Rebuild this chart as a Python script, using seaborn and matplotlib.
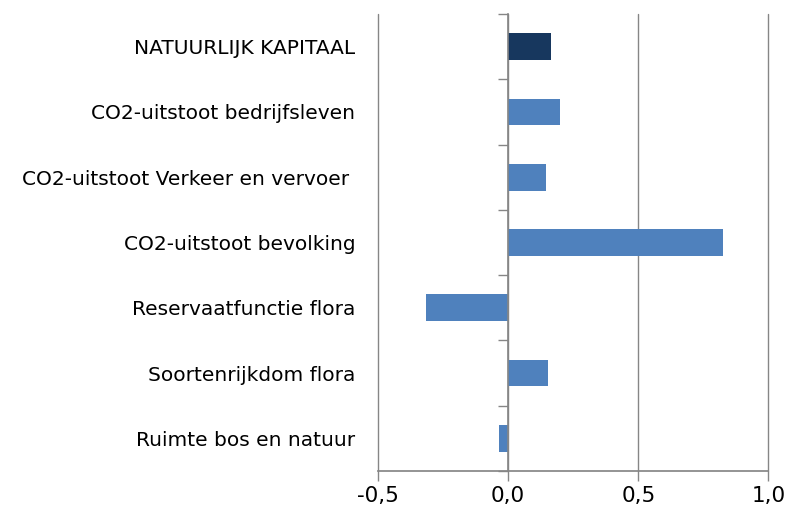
import matplotlib
matplotlib.use("Agg")
import matplotlib.pyplot as plt
import seaborn as sns
import pandas as pd
from matplotlib.ticker import FuncFormatter, FixedLocator

categories = [
    "NATUURLIJK KAPITAAL",
    "CO2-uitstoot bedrijfsleven",
    "CO2-uitstoot Verkeer en vervoer ",
    "CO2-uitstoot bevolking",
    "Reservaatfunctie flora",
    "Soortenrijkdom flora",
    "Ruimte bos en natuur",
]
values = [0.166, 0.20, 0.146, 0.827, -0.315, 0.152, -0.036]
colors = ["#17375E"] + ["#4F81BD"] * 6
xticks = [-0.5, 0.0, 0.5, 1.0]

df = pd.DataFrame({"cat": categories, "val": values})

sns.set_theme(style="white")
plt.rcParams["font.family"] = ["DejaVu Sans"]

fig = plt.figure(figsize=(7.89, 5.17), dpi=100)
ax = fig.add_axes([0.479, 0.089, 0.495, 0.884])

sns.barplot(data=df, x="val", y="cat", hue="cat", palette=colors, legend=False,
            width=0.41, orient="h", ax=ax, edgecolor="none", saturation=1)

ax.set_xlim(-0.5, 1.0)
ax.set_ylim(len(categories) - 0.5, -0.5)
ax.set_xticks(xticks)
ax.xaxis.set_major_formatter(FuncFormatter(lambda v, p: f"{v:.1f}".replace(".", ",")))
ax.grid(axis="x", color="#868686", linewidth=1)
for gl in ax.get_xgridlines():
    gl.set_clip_on(False)
ax.set_axisbelow(True)
ax.set_xlabel("")
ax.set_ylabel("")

for s in ["top", "right"]:
    ax.spines[s].set_visible(False)
ax.spines["bottom"].set_color("#868686")
ax.spines["left"].set_color("#868686")
ax.spines["left"].set_linewidth(1.2)
ax.spines["left"].set_position(("data", 0))
ax.spines["left"].set_zorder(3)

ax.yaxis.set_minor_locator(FixedLocator([i - 0.5 for i in range(len(categories) + 1)]))
ax.tick_params(axis="y", which="minor", length=7, color="#868686", width=1, left=True,
               direction="out")
ax.tick_params(axis="y", which="major", length=0, pad=110, labelsize=14.5, colors="black")
ax.tick_params(axis="x", which="major", length=7, color="#868686", width=1, bottom=True,
               direction="out", labelsize=15.5, pad=4, colors="black")

fig.savefig("out.png", dpi=100)
